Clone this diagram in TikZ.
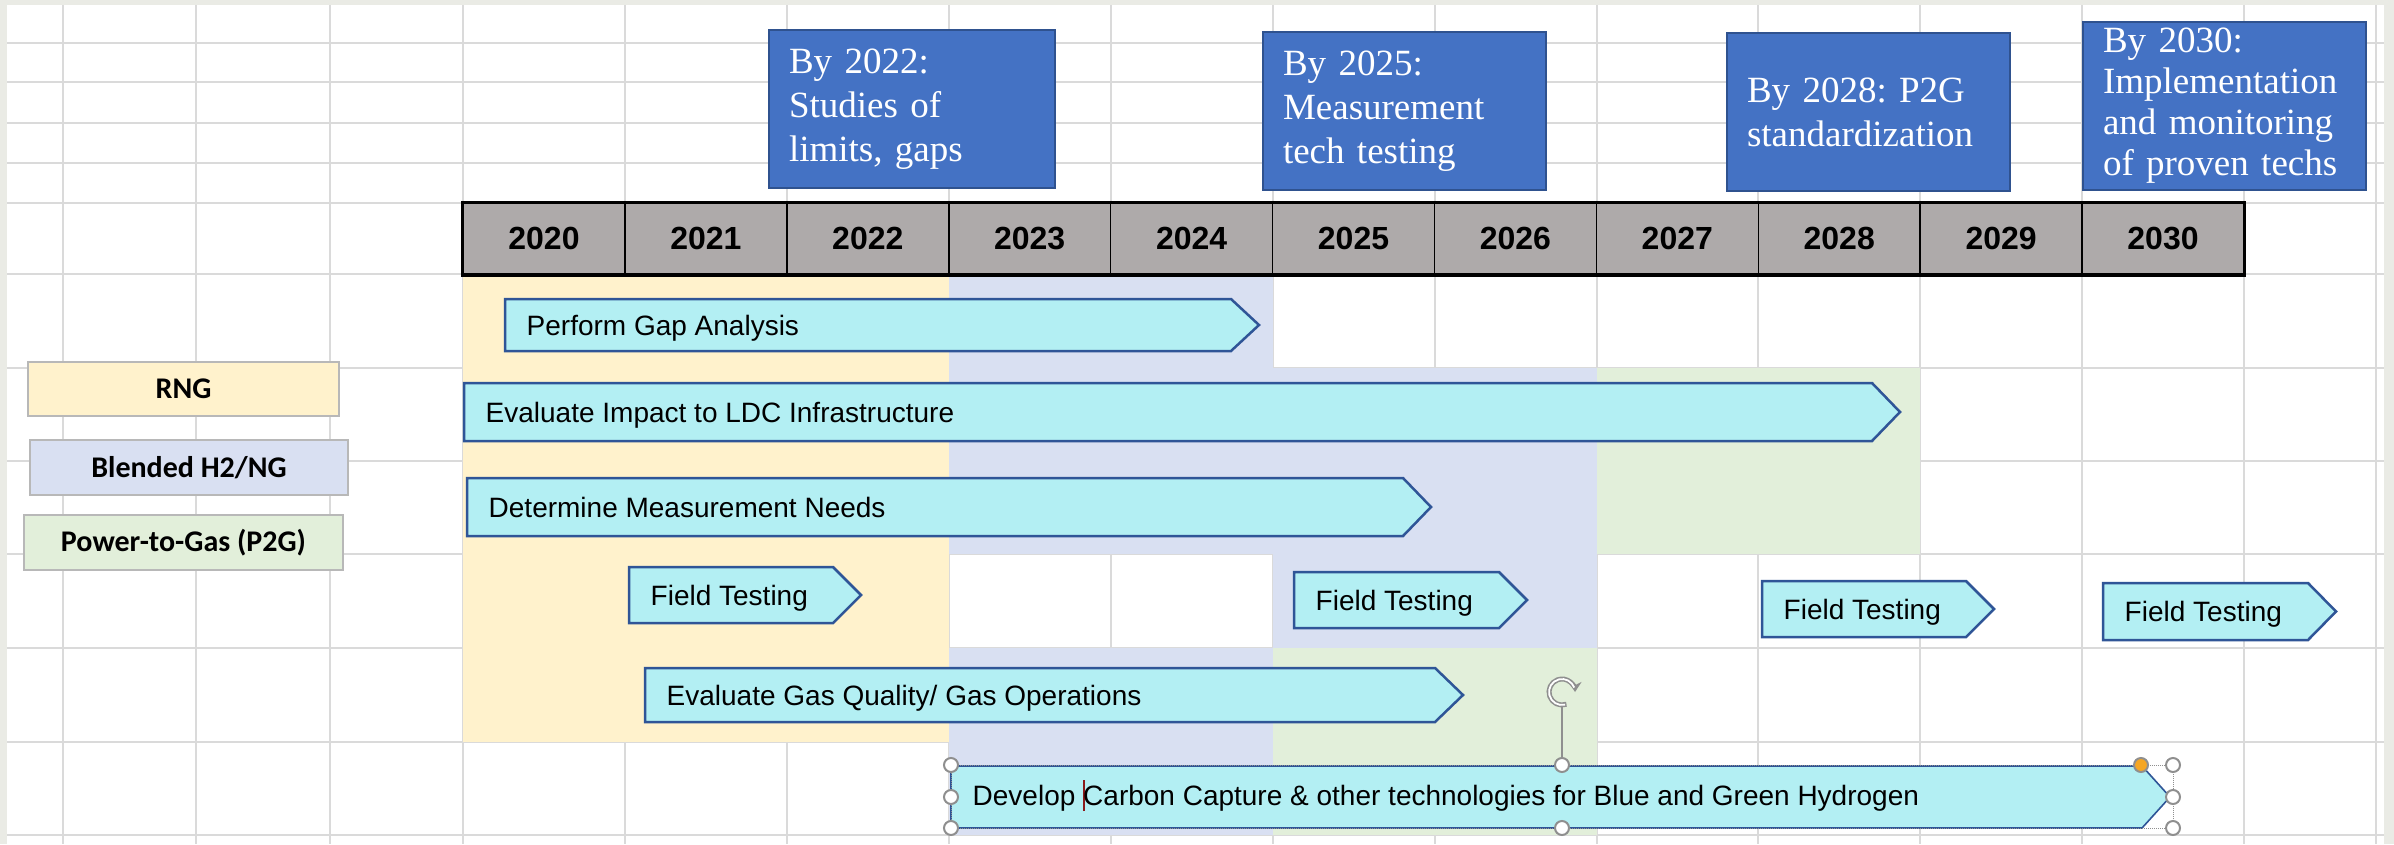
\documentclass[tikz,border=0pt]{standalone}
\usepackage{fontspec}
\setmainfont{Liberation Sans}
\newfontfamily\serifbox{Liberation Serif}
\newfontfamily\calibri{Carlito}
\usetikzlibrary{arrows.meta}
\frenchspacing

\definecolor{rngfill}{HTML}{FFF2CC}
\definecolor{blendfill}{HTML}{D9E0F2}
\definecolor{ptgfill}{HTML}{E2EFDA}
\definecolor{gridgray}{HTML}{DADADA}
\definecolor{yeargray}{HTML}{AEAAAA}
\definecolor{noteblue}{HTML}{4472C4}
\definecolor{noteedge}{HTML}{2F528F}
\definecolor{taskfill}{HTML}{B3EFF3}
\definecolor{taskedge}{HTML}{2F5597}
\definecolor{sheetframe}{HTML}{EAEBE5}
\definecolor{handlegray}{HTML}{8F8F8F}
\definecolor{handleorange}{HTML}{F5A623}
\definecolor{cursorred}{HTML}{8B1A1A}

\begin{document}
\begin{tikzpicture}[x=1pt, y=-1pt,
  gridline/.style={draw=gridgray, line width=1.6},
  yearcell/.style={draw=black, line width=1.5, fill=yeargray, minimum width=161.9,
    minimum height=71, inner sep=0, font=\bfseries\fontsize{32}{32}\selectfont},
  legendbox/.style={draw=black!28, line width=1.5, minimum height=55, inner sep=0,
    font=\calibri\bfseries\fontsize{30}{30}\selectfont},
  notebox/.style={draw=noteedge, line width=1.5, fill=noteblue, text=white, align=left,
    inner xsep=20, inner ysep=0, font=\serifbox\fontsize{37}{44}\selectfont},
  task/.style={draw=taskedge, line width=2.5, fill=taskfill, line join=miter},
  tasklabel/.style={anchor=west, inner sep=0, text height=20, text depth=0,
    font=\fontsize{28}{28}\selectfont},
  handle/.style={circle, draw=handlegray, line width=2, fill=white, minimum size=14, inner sep=0},
  selbox/.style={draw=handlegray, line width=1, densely dotted}]

  % sheet with its frame
  \fill[sheetframe] (0,0) rectangle (2394,844);
  \fill[white] (7,5) rectangle (2384,844);
  \useasboundingbox (0,0) rectangle (2394,844);

  % cell grid
  \foreach \gx in {63,196,330,463,625,787,949,1111,1273,1435,1597,1758,1920,2082,2244,2376}
    \draw[gridline] (\gx,5) -- (\gx,844);
  \foreach \gy in {43,82,123,163,203,274,368,461,554,648,742,835}
    \draw[gridline] (7,\gy) -- (2384,\gy);

  % shaded cells per pathway
  \fill[rngfill] (463,274) rectangle (949,742);
  \fill[blendfill] (949,274) rectangle (1273,368);
  \fill[blendfill] (949,368) rectangle (1597,554);
  \fill[blendfill] (1273,554) rectangle (1597,648);
  \fill[blendfill] (949,648) rectangle (1273,835);
  \fill[ptgfill] (1597,368) rectangle (1920,554);
  \fill[ptgfill] (1273,648) rectangle (1597,835);

  % year header
  \foreach \yr [count=\i from 0] in {2020,...,2030}
    \node[yearcell] (y\yr) at ({544+161.9*\i},238.5) {\yr};
  \draw[line width=3.5] (y2020.north west) rectangle (y2030.south east);

  % legend
  \node[legendbox, fill=rngfill, minimum width=311, minimum height=54] (rng) at (183.5,389) {RNG};
  \node[legendbox, fill=blendfill, minimum width=318] (blend) at (189,467.5) {Blended H2/NG};
  \node[legendbox, fill=ptgfill, minimum width=319] (ptg) at (183.5,542.5) {Power-to-Gas (P2G)};

  % milestone notes
  \node[notebox, text width=246, minimum height=158] (by2022) at (912,109)
       {By 2022:\\Studies of\\limits, gaps};
  \node[notebox, text width=243, minimum height=158] (by2025) at (1404.5,111)
       {By 2025:\\Measurement\\tech testing};
  \node[notebox, text width=243, minimum height=158] (by2028) at (1868.5,112)
       {By 2028: P2G\\standardization};
  \node[notebox, text width=243, minimum height=168, font=\serifbox\fontsize{37}{41}\selectfont]
       (by2030) at (2224.5,106) {By 2030:\\Implementation\\and monitoring\\of proven techs};

  % activity arrows
  \foreach \nm/\xa/\xb/\ya/\yb/\txt in {
      gap/505/1259/299/351/{Perform Gap Analysis},
      ldc/464/1900/383/441/{Evaluate Impact to LDC Infrastructure},
      meas/467/1431/478/536/{Determine Measurement Needs},
      fta/629/861/567/623/{Field Testing},
      ftb/1294/1527/572/628/{Field Testing},
      ftc/1762/1994/581/637/{Field Testing},
      ftd/2103/2336/583/640/{Field Testing},
      gas/645/1463/668/722/{Evaluate Gas Quality/ Gas Operations}} {
    \draw[task] (\xa,\ya) -- (\xb-28,\ya) -- (\xb,{(\ya+\yb)/2}) -- (\xb-28,\yb) -- (\xa,\yb) -- cycle;
    \node[tasklabel] (\nm) at (\xa+21.5,{(\ya+\yb)/2}) {\txt};
  }

  % selected arrow with text cursor
  \draw[task, line width=1.6] (951,766) -- (2142,766) -- (2170,797) -- (2142,828) -- (951,828) -- cycle;
  \node[tasklabel] (ccs) at (972.5,795)
       {Develop\ \makebox[0pt][l]{\color{cursorred}\rule[-6pt]{2pt}{31pt}}Carbon Capture \& other technologies for Blue and Green Hydrogen};

  % selection frame and handles
  \draw[selbox] (951,765) rectangle (2173,828);
  \coordinate (rot) at (1562,692);
  \foreach \hx in {951,1562,2173}
    \foreach \hy in {765,828}
      \node[handle] (h-\hx-\hy) at (\hx,\hy) {};
  \node[handle] (h-951-797) at (951,797) {};
  \node[handle] (h-2173-797) at (2173,797) {};
  \node[handle, fill=handleorange] (adj) at (2141,765) {};
  \draw[handlegray, line width=1.5] ([yshift=-15pt]rot) -- (h-1562-765.north);
  \draw[handlegray, line width=5, -{Stealth[length=10pt,width=13pt]}]
       ([shift={(70:13)}]rot) arc[start angle=70, end angle=360, radius=13];
  \draw[white, line width=1.8] ([shift={(76:13)}]rot) arc[start angle=76, end angle=340, radius=13];
\end{tikzpicture}
\end{document}
